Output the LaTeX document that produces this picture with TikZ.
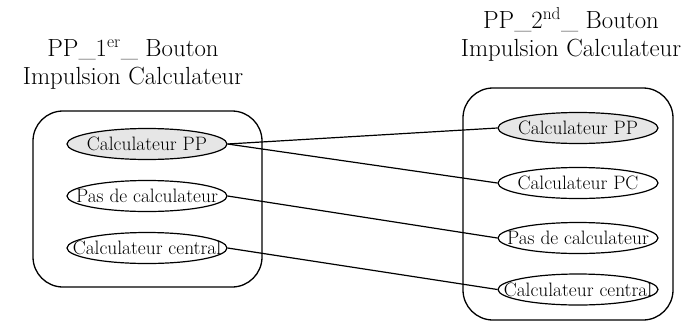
\documentclass[tikz,border=0pt]{standalone}
\usepackage{fontspec}
\usepackage{xcolor}
\usepackage{tikz}
\usetikzlibrary{shapes.geometric,positioning}
\definecolor{fillpp}{HTML}{E6E6E6}
\newcommand{\ztext}[1]{\makebox[0pt]{#1}}
\tikzset{
  grp/.style={draw,line width=1.3pt,rounded corners=30pt},
  calc/.style={ellipse,draw,line width=1.2pt,fill=white,minimum width=160pt,minimum height=31pt,inner sep=0pt,font=\fontsize{19.4}{21}\selectfont},
  calcpp/.style={calc,fill=fillpp},
  lnk/.style={line width=1.2pt},
  ttl/.style={align=center,font=\fontsize{24.8}{28}\selectfont}
}
\begin{document}
\begin{tikzpicture}[x=1pt,y=-1pt]
\useasboundingbox (0,0) rectangle (698,322);
% groups
\draw[grp] (33,111) rectangle (262,287);
\draw[grp] (463,88) rectangle (673,320);
\node[ttl] (t1) at (133,64) {PP\_1\textsuperscript{er}\_ Bouton\\Impulsion Calculateur};
\node[ttl] (t2) at (571,34) {PP\_2\textsuperscript{nd}\_ Bouton\\Impulsion Calculateur};
% left
\node[calcpp] (a1) at (147,144) {\ztext{Calculateur PP}};
\node[calc] (a2) at (147,196) {\ztext{Pas de calculateur}};
\node[calc] (a3) at (147,248) {\ztext{Calculateur central}};
% right
\node[calcpp] (b1) at (578,128) {\ztext{Calculateur PP}};
\node[calc] (b2) at (578,183) {\ztext{Calculateur PC}};
\node[calc] (b3) at (578,238) {\ztext{Pas de calculateur}};
\node[calc] (b4) at (578,289.5) {\ztext{Calculateur central}};
% links
\draw[lnk] (a1.east) -- (b1.west);
\draw[lnk] (a1.east) -- (b2.west);
\draw[lnk] (a2.east) -- (b3.west);
\draw[lnk] (a3.east) -- (b4.west);
\end{tikzpicture}
\end{document}
